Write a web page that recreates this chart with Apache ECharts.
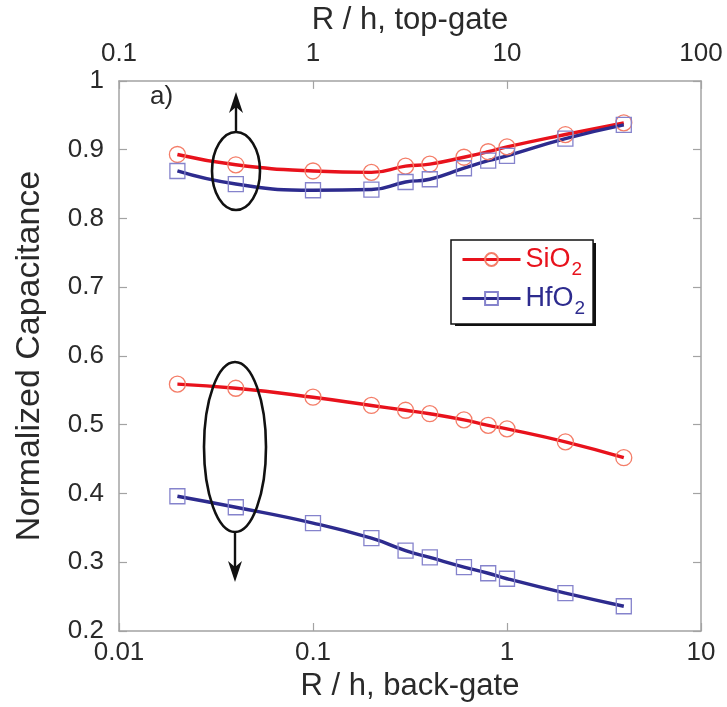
<!DOCTYPE html>
<html><head><meta charset="utf-8">
<script src="https://cdn.jsdelivr.net/npm/echarts@6/dist/echarts.min.js"></script>
<style>html,body{margin:0;padding:0;background:#fff}#c{width:727px;height:707px}</style>
</head><body><div id="c"></div>
<script>
// R/h values (back-gate on bottom axis, top-gate on top axis)
const backGateX = [0.02, 0.04, 0.1, 0.2, 0.3, 0.4, 0.6, 0.8, 1, 2, 4];
const topGateX  = [0.2, 0.4, 1, 2, 3, 4, 6, 8, 10, 20, 40];
// Normalized capacitance
const topSiO2  = [0.893, 0.878, 0.869, 0.867, 0.876, 0.879, 0.889, 0.897, 0.904, 0.922, 0.939];
const topHfO2  = [0.869, 0.850, 0.841, 0.842, 0.853, 0.857, 0.873, 0.884, 0.891, 0.916, 0.936];
const backSiO2 = [0.559, 0.553, 0.540, 0.528, 0.521, 0.516, 0.507, 0.499, 0.494, 0.475, 0.452];
const backHfO2 = [0.396, 0.380, 0.357, 0.335, 0.317, 0.307, 0.293, 0.284, 0.276, 0.255, 0.236];
const seriesNames = ['SiO2', 'HfO2'];
const yMin = 0.2, yMax = 1, yStep = 0.1;

const FONT = 'Liberation Sans, Arial, Helvetica, sans-serif';
const RED = '#e8121c', RED_M = '#f47d68';
const BLUE = '#2d2b8e', BLUE_M = '#8583cc';
const AX = '#a3a3a3';
const TXT = '#2a2a2a';

const zip = (xs, ys) => xs.map((x, i) => [x, ys[i]]);

const axisCommon = {
  axisLine: { show: true, lineStyle: { color: AX, width: 1.5 } },
  axisTick: { show: true, inside: true, length: 8, lineStyle: { color: AX, width: 1.2 } },
  splitLine: { show: false },
  minorTick: { show: false },
  axisLabel: { fontFamily: FONT, fontSize: 26, color: TXT, showMinLabel: true, showMaxLabel: true },
  nameTextStyle: { fontFamily: FONT, fontSize: 31, color: TXT }
};

function mkSeries(name, xIdx, data, color, mColor, symbol, size) {
  return {
    name, type: 'line', xAxisIndex: xIdx, yAxisIndex: 0,
    data, smooth: 0.5, symbol, symbolSize: size,
    lineStyle: { color, width: 3.4 },
    itemStyle: { color: 'rgba(255,255,255,0)', borderColor: mColor, borderWidth: 1.3 },
    emphasis: { disabled: true }, z: 3
  };
}

const chart = echarts.init(document.getElementById('c'), null, { renderer: 'canvas' });
chart.setOption({
  animation: false,
  backgroundColor: '#fff',
  grid: { left: 119, right: 26, top: 76, bottom: 76, containLabel: false },
  xAxis: [
    Object.assign({}, axisCommon, {
      type: 'log', logBase: 10, min: 0.01, max: 10, position: 'bottom',
      name: 'R / h, back-gate', nameLocation: 'middle', nameGap: 40,
      axisLabel: Object.assign({}, axisCommon.axisLabel, { margin: 9 })
    }),
    Object.assign({}, axisCommon, {
      type: 'log', logBase: 10, min: 0.1, max: 100, position: 'top',
      name: 'R / h, top-gate', nameLocation: 'middle', nameGap: 42,
      axisLabel: Object.assign({}, axisCommon.axisLabel, { margin: 14 })
    })
  ],
  yAxis: [
    Object.assign({}, axisCommon, {
      type: 'value', min: yMin, max: yMax, interval: yStep, position: 'left',
      name: 'Normalized Capacitance', nameLocation: 'middle', nameGap: 72,
      nameTextStyle: { fontFamily: FONT, fontSize: 34, color: TXT },
      axisLabel: Object.assign({}, axisCommon.axisLabel, { margin: 15,
        formatter: v => String(Math.round(v * 10) / 10) })
    }),
    Object.assign({}, axisCommon, {
      type: 'value', min: yMin, max: yMax, interval: yStep, position: 'right',
      axisLabel: { show: false }
    })
  ],
  legend: {
    orient: 'vertical', left: 451, top: 240, z: 20,
    padding: [6, 8, 6, 10], itemGap: 6, itemWidth: 58, itemHeight: 16,
    backgroundColor: '#fff', borderColor: '#111', borderWidth: 1.5, borderRadius: 0,
    lineStyle: { width: 3 },
    data: [
      { name: seriesNames[0], textStyle: { color: RED } },
      { name: seriesNames[1], textStyle: { color: BLUE } }
    ],
    formatter: n => n === 'SiO2' ? '{m|SiO}{s|2}' : '{m|HfO}{s|2}',
    textStyle: {
      fontFamily: FONT, fontSize: 27,
      rich: {
        m: { fontFamily: FONT, fontSize: 27, lineHeight: 33 },
        s: { fontFamily: FONT, fontSize: 19, padding: [20, 0, 0, 1] }
      }
    }
  },
  series: [
    mkSeries(seriesNames[0], 1, zip(topGateX, topSiO2), RED, RED_M, 'circle', 16),
    mkSeries(seriesNames[1], 1, zip(topGateX, topHfO2), BLUE, BLUE_M, 'rect', 15),
    mkSeries(seriesNames[0], 0, zip(backGateX, backSiO2), RED, RED_M, 'circle', 16),
    mkSeries(seriesNames[1], 0, zip(backGateX, backHfO2), BLUE, BLUE_M, 'rect', 15)
  ],
  graphic: [
    { type: 'rect', shape: { x: 455, y: 243, width: 141, height: 83 }, style: { fill: '#111' }, z: 1 },
    { type: 'text', left: 150, top: 84, style: { text: 'a)', font: '26px ' + FONT, fill: TXT } },
    { type: 'ellipse', shape: { cx: 236, cy: 171, rx: 24, ry: 39 }, style: { fill: 'none', stroke: '#111', lineWidth: 2.6 }, z: 10 },
    { type: 'line', shape: { x1: 236, y1: 132, x2: 236, y2: 104 }, style: { stroke: '#111', lineWidth: 2.4 }, z: 10 },
    { type: 'polygon', shape: { points: [[236, 92], [243, 113], [236, 107], [229, 113]] }, style: { fill: '#111' }, z: 10 },
    { type: 'ellipse', shape: { cx: 235, cy: 447, rx: 31, ry: 85 }, style: { fill: 'none', stroke: '#111', lineWidth: 2.6 }, z: 10 },
    { type: 'line', shape: { x1: 235, y1: 532, x2: 235, y2: 570 }, style: { stroke: '#111', lineWidth: 2.4 }, z: 10 },
    { type: 'polygon', shape: { points: [[235, 582], [242, 561], [235, 567], [228, 561]] }, style: { fill: '#111' }, z: 10 }
  ]
});
</script>
</body></html>
